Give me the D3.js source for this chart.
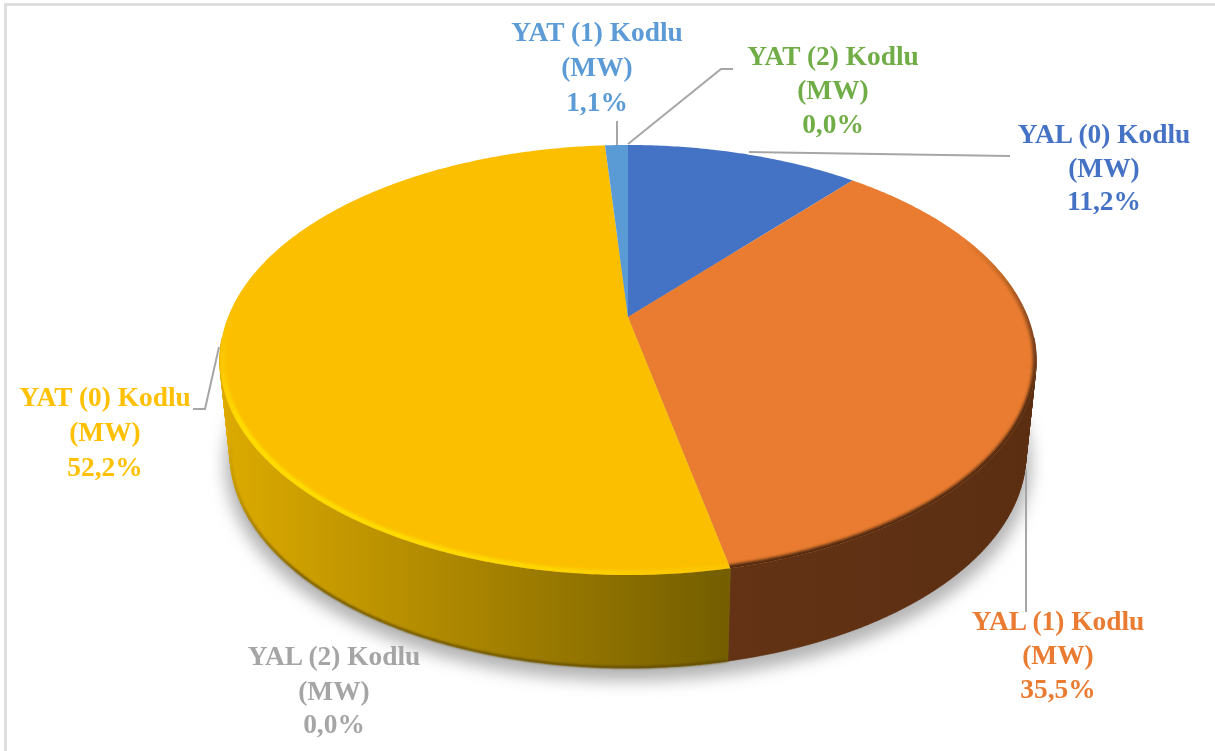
<!DOCTYPE html>
<html>
<head>
<meta charset="utf-8">
<script src="https://cdn.jsdelivr.net/npm/d3@7"></script>
<style>
html, body { margin: 0; padding: 0; background: #fff; }
svg { display: block; }
text { font-family: "Liberation Serif", serif; font-weight: bold; }
</style>
</head>
<body>
<div id="chart"></div>
<script>
//Data
const categories = ["YAL (0) Kodlu", "YAL (1) Kodlu", "YAL (2) Kodlu", "YAT (0) Kodlu", "YAT (1) Kodlu", "YAT (2) Kodlu"];
const shares = [11.2, 35.5, 0.0, 52.2, 1.1, 0.0];
const unitLabel = "(MW)";
const colors = ["#4472c4", "#e97c30", "#a5a5a5", "#fbbf00", "#5b9bd5", "#70ad47"];
const sideColors = [
    ["#2c4a80", "#2c4a80"],
    ["#5b2e12", "#643315"],
    ["#6b6b6b", "#6b6b6b"],
    ["#dcaa00", "#745e00"],
    ["#3b658b", "#3b658b"],
    ["#49702e", "#49702e"]
];

//Label placement, centre x and the three baselines, then the leader line
const labelX = [1104, 1058, 334, 105, 597, 833];
const labelY = [[143, 177, 210], [630, 664, 698], [665, 700, 733], [406, 441, 476], [41, 76, 111], [65, 99, 133]];
const leaders = [
    [[749, 152], [1010, 156]],
    [[1026, 470], [1026, 612]],
    [],
    [[193, 409], [205, 409], [219, 347]],
    [[617, 121], [617, 145]],
    [[733, 69], [721, 69], [628, 144]]
];

const width = 1215;
const height = 751;

//Perspective of the disc: the far side is squeezed by this factor
const tilt = 0.2;

const topX = d3.scaleLinear().domain([-1, 1]).range([228, 1028]);
const topY = d3.scaleLinear().domain([1, -1]).range([110.6, 523.4]);
const baseX = d3.scaleLinear().domain([-1, 1]).range([238, 1018]);
const baseY = d3.scaleLinear().domain([1, -1]).range([204.5, 616.5]);

function project(angle, scaleX, scaleY, radius = 1) {
    const u = Math.sin(angle) * radius;
    const v = Math.cos(angle) * radius;
    const d = 1 + tilt * v;
    return [scaleX(u / d), scaleY(v / d)];
}

function angles(a0, a1, step = 0.01) {
    const n = Math.max(1, Math.ceil((a1 - a0) / step));
    return d3.range(n + 1).map(i => a0 + (a1 - a0) * i / n);
}

const line = d3.line();

const slices = d3.pie().sort(null).value(d => d)(shares);

const svg = d3.select("#chart").append("svg")
    .attr("width", width)
    .attr("height", height);

const defs = svg.append("defs");

function addBlur(id, dev) {
    defs.append("filter")
        .attr("id", id)
        .attr("x", "-20%").attr("y", "-20%")
        .attr("width", "140%").attr("height", "140%")
        .append("feGaussianBlur").attr("stdDeviation", dev);
}
addBlur("shadowBlur", 8);
addBlur("bevelBlur", 1.8);
addBlur("edgeBlur", 0.8);
addBlur("textBlur", 0.45);

function addFade(id, x1, y1, x2, y2, color, stops) {
    defs.append("linearGradient")
        .attr("id", id)
        .attr("gradientUnits", "userSpaceOnUse")
        .attr("x1", x1).attr("y1", y1).attr("x2", x2).attr("y2", y2)
        .selectAll("stop")
        .data(stops)
        .join("stop")
        .attr("offset", d => d[0])
        .attr("stop-color", color)
        .attr("stop-opacity", d => d[1]);
}

//Frame left by the screenshot
svg.append("rect").attr("x", 4).attr("y", 3).attr("width", width).attr("height", 3).attr("fill", "#dedede");
svg.append("rect").attr("x", 4).attr("y", 3).attr("width", 3).attr("height", height).attr("fill", "#dedede");

//Shadow under the disc
const fullCircle = angles(0, 2 * Math.PI);
svg.append("path")
    .attr("d", line(fullCircle.map(a => project(a, baseX, baseY, 1.012))) + "Z")
    .attr("transform", "translate(0,9)")
    .attr("fill", "#b4b4b4")
    .attr("filter", "url(#shadowBlur)");

//Sides, one gradient per slice, only the faces turned to the viewer
addFade("lip", 232, 430, 330, 560, "#5c4700", [[0, 0], [1, 1]]);
const sides = svg.append("g");
slices.forEach((s, i) => {
    if (s.endAngle - s.startAngle <= 0) return;
    defs.append("linearGradient")
        .attr("id", "side" + i)
        .attr("gradientUnits", "userSpaceOnUse")
        .attr("x1", i === 1 ? 1030 : 225)
        .attr("x2", 724).attr("y1", 0).attr("y2", 0)
        .selectAll("stop")
        .data(sideColors[i])
        .join("stop")
        .attr("offset", (d, k) => k)
        .attr("stop-color", d => d);

    const steps = angles(s.startAngle, s.endAngle);
    let d = "";
    d3.pairs(steps).forEach(([a, b]) => {
        const p = [project(a, topX, topY), project(b, topX, topY), project(b, baseX, baseY), project(a, baseX, baseY)];
        const area = d3.polygonArea(p);
        if (area > 0) d += line(p) + "Z";
        else if (area < 0 && Math.cos((a + b) / 2) < -0.1) d += line(p.reverse()) + "Z";
    });
    sides.append("path")
        .attr("d", d)
        .attr("fill", `url(#side${i})`)
        .attr("stroke", `url(#side${i})`)
        .attr("stroke-width", 0.6);

    //Dark lip along the bottom of the yellow side
    if (i === 3) {
        sides.append("path")
            .attr("d", line(angles(s.startAngle, 4.55).map(a => project(a, baseX, baseY, 0.998))))
            .attr("fill", "none")
            .attr("stroke", "url(#lip)")
            .attr("stroke-width", 2)
            .attr("filter", "url(#edgeBlur)");
    }
});

//Top face
const face = svg.append("g");
slices.forEach((s, i) => {
    if (s.endAngle - s.startAngle <= 0) return;
    const rim = angles(s.startAngle, s.endAngle).map(a => project(a, topX, topY));
    const outline = line([project(0, topX, topY, 0)].concat(rim)) + "Z";
    defs.append("clipPath").attr("id", "clip" + i).append("path").attr("d", outline);
    face.append("path")
        .attr("d", outline)
        .attr("fill", colors[i]);
});

//Bevel on the rim: dark on the orange slice, bright on the yellow one
const orange = slices[1];
const yellow = slices[3];

addFade("orangeEdge", 0, 240, 0, 400, "#4e2810", [[0, 0], [0.45, 0.55], [1, 1]]);
face.append("g").attr("clip-path", "url(#clip1)")
    .append("path")
    .attr("d", line(angles(1.1, orange.endAngle + 0.02).map(a => project(a, topX, topY, 1))))
    .attr("fill", "none")
    .attr("stroke", "url(#orangeEdge)")
    .attr("stroke-width", 7)
    .attr("filter", "url(#bevelBlur)");

addFade("glint", 220, 330, 724, 570, "#ffe000", [[0, 0], [0.1, 1], [0.6, 0.9], [1, 0.2]]);
face.append("g").attr("clip-path", "url(#clip3)")
    .append("path")
    .attr("d", line(angles(yellow.startAngle, 4.7).map(a => project(a, topX, topY, 0.994))))
    .attr("fill", "none")
    .attr("stroke", "url(#glint)")
    .attr("stroke-width", 5)
    .attr("filter", "url(#bevelBlur)");

//Leader lines
svg.append("g").selectAll("path")
    .data(leaders.filter(d => d.length))
    .join("path")
    .attr("d", d => line(d))
    .attr("fill", "none")
    .attr("stroke", "#a6a6a6")
    .attr("stroke-width", 2);

//Labels
const labels = svg.append("g")
    .attr("filter", "url(#textBlur)")
    .selectAll("text")
    .data(categories)
    .join("text")
    .attr("text-anchor", "middle")
    .attr("font-size", 27.4)
    .attr("fill", (d, i) => colors[i] === "#fbbf00" ? "#ffc000" : colors[i]);

labels.selectAll("tspan")
    .data((d, i) => [d, unitLabel, shares[i].toFixed(1).replace(".", ",") + "%"].map((t, k) => ({ t, x: labelX[i], y: labelY[i][k] })))
    .join("tspan")
    .attr("x", d => d.x)
    .attr("y", d => d.y)
    .text(d => d.t);
</script>
</body>
</html>
